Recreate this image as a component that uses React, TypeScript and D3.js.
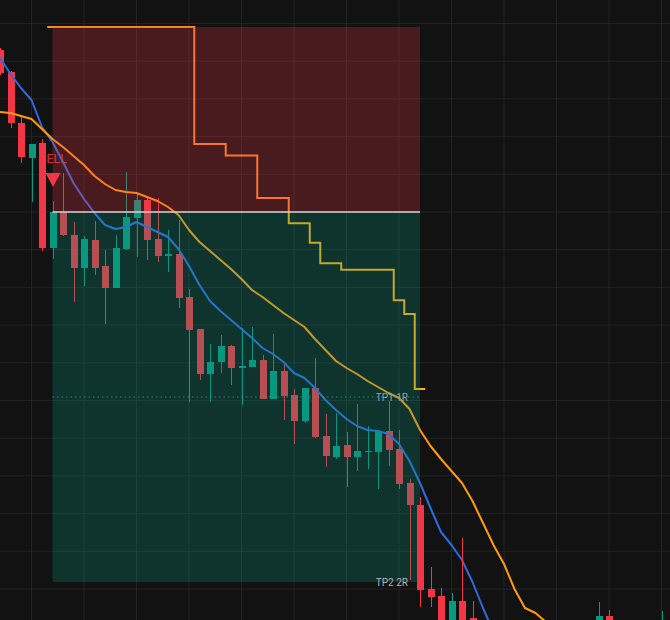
import React from "react";
import * as d3 from "d3";

const W = 670;
const H = 620;

// bar index of each candle
const barIdx = [0,1,2,3,4,5,6,7,8,9,10,11,12,13,14,15,16,17,18,19,20,21,22,23,24,25,26,27,28,29,30,31,32,33,34,35,36,37,38,39,40,41,42,43,44,45,57,58,63];
const opens = [57.0,54.8,49.7,46.2,47.7,37.2,40.8,38.5,35.2,38.0,35.4,33.2,37.1,40.2,42.0,38.1,36.4,36.6,32.3,29.1,24.6,25.8,27.4,25.2,25.3,26.0,22.1,24.9,22.5,19.9,23.2,18.4,16.3,17.5,16.3,16.8,16.8,18.9,17.1,13.7,11.5,3.1,2.4,-0.5,1.9,0.2,-1.0,0.4,-1.5];
const highs = [57.2,54.9,50.3,47.6,48.1,41.9,44.7,39.8,38.4,39.9,37.0,38.5,44.8,42.8,42.2,42.2,39.0,40.0,33.1,29.1,27.6,28.5,27.5,29.2,29.3,26.5,28.6,25.8,23.1,23.2,26.2,20.6,20.7,18.8,21.6,19.4,19.0,21.9,19.0,14.1,12.3,5.3,3.2,2.7,8.2,1.9,1.8,1.0,0.9];
const lows = [54.5,49.2,45.7,41.8,36.9,36.1,38.4,31.8,33.4,34.5,29.6,33.2,37.0,36.3,36.0,35.8,34.8,31.2,21.8,24.0,21.8,24.7,23.5,21.5,25.3,22.1,22.1,20.0,17.6,19.7,18.2,15.3,16.1,13.3,14.9,15.1,13.1,15.4,13.1,4.0,1.3,1.3,-1.0,-1.0,-1.0,-1.5,-1.5,-1.5,-2.0];
const closes = [54.7,49.7,46.3,47.6,37.2,40.8,38.5,35.2,38.1,35.2,33.2,37.2,40.3,42.0,38.0,36.4,36.6,32.2,29.0,24.6,25.8,27.4,25.2,25.4,26.0,22.1,24.9,22.4,19.9,23.2,18.3,16.4,17.4,16.3,16.9,16.9,18.9,17.0,13.6,11.5,3.0,2.3,-0.5,1.9,-0.5,-0.8,0.4,-0.8,-0.5];

// moving averages (bar 0 onward)
const fastMA = [56.2,54.6,53.2,52.0,49.3,47.8,45.8,43.7,42.1,40.7,39.5,39.1,39.3,39.8,39.3,38.8,38.3,37.1,35.4,33.5,31.9,30.9,30.0,29.1,28.2,27.2,26.6,25.8,24.7,24.2,23.2,22.0,21.0,20.1,19.4,19.0,18.9,18.6,17.6,15.9,13.7,11.2,8.8,7.5,6.0,3.8,1.2,-1.2];
const slowMA = [50.8,50.7,50.4,50.1,49.1,48.1,47.3,46.4,45.5,44.4,43.6,43.0,42.8,42.7,42.3,41.9,41.3,40.5,39.0,37.8,36.9,36.0,35.1,34.1,33.0,32.3,31.5,30.7,30.0,29.3,28.1,27.0,25.9,25.2,24.6,23.9,23.3,22.7,22.2,21.1,19.0,17.4,16.1,14.9,13.7,11.9,9.7,7.5,5.6,3.1,1.2,0.7,-0.2];

// trailing stop steps
const stopBars = [4.5,18.5,21.5,24.5,27.5,29.5,30.5,32.5,37.5,38.5,39.5,40.5];
const stopLevels = [59.3,47.6,46.45,42.2,39.67,37.73,35.67,35.03,31.97,30.6,23.1,23.1];

// trade
const tradeStartBar = 5;
const tradeEndBar = 40;
const entryPrice = 40.8;
const stopPrice = 59.3;
const tp1Price = 22.3;
const tp2Price = 3.8;
const tradeLabels = ["SELL", "TP1 1R", "TP2 2R"];

// grid
const gridPrices = [59.65,55.88,52.11,48.34,44.57,40.8,37.03,33.26,29.49,25.72,21.95,18.18,14.41,10.64,6.87,3.1];
const gridBars = [3,8,13,18,23,28,33,38,43,48,53,58,63];

const UP = "#089981";
const DOWN = "#f23645";
const FONT = "Roboto, 'Noto Sans', sans-serif";

export default function App() {
  React.useEffect(() => {
    document.body.style.margin = "0";
    document.body.style.background = "#121212";
  }, []);

  const x = d3.scaleLinear().domain([0, 1]).range([0, 10.5]);
  const y = d3.scaleLinear().domain([0, 62]).range([H, 0]);
  const bw = 7;

  const candle = (k: number) => {
    const o = opens[k], c = closes[k], hi = highs[k], lo = lows[k];
    const col = c >= o ? UP : DOWN;
    const cx = Math.round(x(barIdx[k])) + 0.5;
    const top = y(Math.max(o, c));
    const bot = y(Math.min(o, c));
    return (
      <g key={"c" + k}>
        <line x1={cx} x2={cx} y1={y(hi)} y2={y(lo)} stroke={col} strokeWidth={1} />
        <rect x={cx - bw / 2} y={top} width={bw} height={Math.max(1, bot - top)} fill={col} />
      </g>
    );
  };

  const lineGen = d3.line<number>().x((_, i) => x(i)).y((d) => y(d));
  const stepGen = d3
    .line<number>()
    .x((_, i) => x(stopBars[i]))
    .y((d) => y(d))
    .curve(d3.curveStepAfter);

  const zx0 = x(tradeStartBar);
  const zx1 = x(tradeEndBar);
  const yEntry = y(entryPrice);
  const yStop = y(stopPrice);
  const yTp1 = y(tp1Price);
  const yTp2 = y(tp2Price);
  const sellX = x(tradeStartBar) + 0.5;
  const triTip = y(highs[tradeStartBar]) - 14;

  const early = barIdx.map((_, k) => k).filter((k) => barIdx[k] < tradeEndBar);
  const late = barIdx.map((_, k) => k).filter((k) => barIdx[k] >= tradeEndBar);
  const stepPath = stepGen(stopLevels) || "";

  return (
    <svg width={W} height={H} style={{ position: "fixed", left: 0, top: 0, display: "block" }}>
      <defs>
        <clipPath id="aboveEntry">
          <rect x={0} y={0} width={W} height={yEntry} />
        </clipPath>
        <clipPath id="belowEntry">
          <rect x={0} y={yEntry} width={W} height={H - yEntry} />
        </clipPath>
      </defs>
      <rect x={0} y={0} width={W} height={H} fill="#121212" />
      <g>
        {gridPrices.map((p) => (
          <line key={"h" + p} x1={0} x2={W} y1={y(p)} y2={y(p)} stroke="#232323" strokeWidth={1} />
        ))}
        {gridBars.map((b) => (
          <line key={"v" + b} x1={x(b)} x2={x(b)} y1={0} y2={H} stroke="#232323" strokeWidth={1} />
        ))}
      </g>
      <text x={sellX} y={triTip - 24} textAnchor="middle" fontFamily={FONT} fontSize={12.5} fill={DOWN} opacity={0.85}>
        {tradeLabels[0]}
      </text>
      <g>{early.map(candle)}</g>
      <path d={lineGen(fastMA) || ""} fill="none" stroke="#2f6bdc" strokeWidth={2} strokeLinejoin="round" />
      <path d={lineGen(slowMA) || ""} fill="none" stroke="#ff9a10" strokeWidth={2} strokeLinejoin="round" />
      <path d={stepPath} fill="none" stroke="#f98a2a" strokeWidth={2} clipPath="url(#aboveEntry)" />
      <path d={stepPath} fill="none" stroke="#ffb010" strokeWidth={2} clipPath="url(#belowEntry)" />
      <rect x={zx0} y={yStop} width={zx1 - zx0} height={yEntry - yStop} fill="rgba(242,54,69,0.25)" />
      <rect x={zx0} y={yEntry} width={zx1 - zx0} height={yTp2 - yEntry} fill="rgba(8,153,129,0.25)" />
      <line x1={zx0} x2={zx1} y1={yEntry} y2={yEntry} stroke="#d6d6d6" strokeWidth={1.5} />
      <line x1={zx0} x2={zx1} y1={yTp1} y2={yTp1} stroke="#2fa38c" strokeWidth={1} strokeDasharray="1.5,3" opacity={0.8} />
      <text x={zx1 - 12} y={yTp1} dy="0.35em" textAnchor="end" fontFamily={FONT} fontSize={10} fill="#9aa3a3">
        {tradeLabels[1]}
      </text>
      <text x={zx1 - 12} y={yTp2} dy="0.35em" textAnchor="end" fontFamily={FONT} fontSize={10} fill="#aeb3b5">
        {tradeLabels[2]}
      </text>
      <path
        d={`M${sellX - 7.5},${triTip - 14} L${sellX + 7.5},${triTip - 14} L${sellX},${triTip} Z`}
        fill={DOWN}
      />
      <g>{late.map(candle)}</g>
    </svg>
  );
}
